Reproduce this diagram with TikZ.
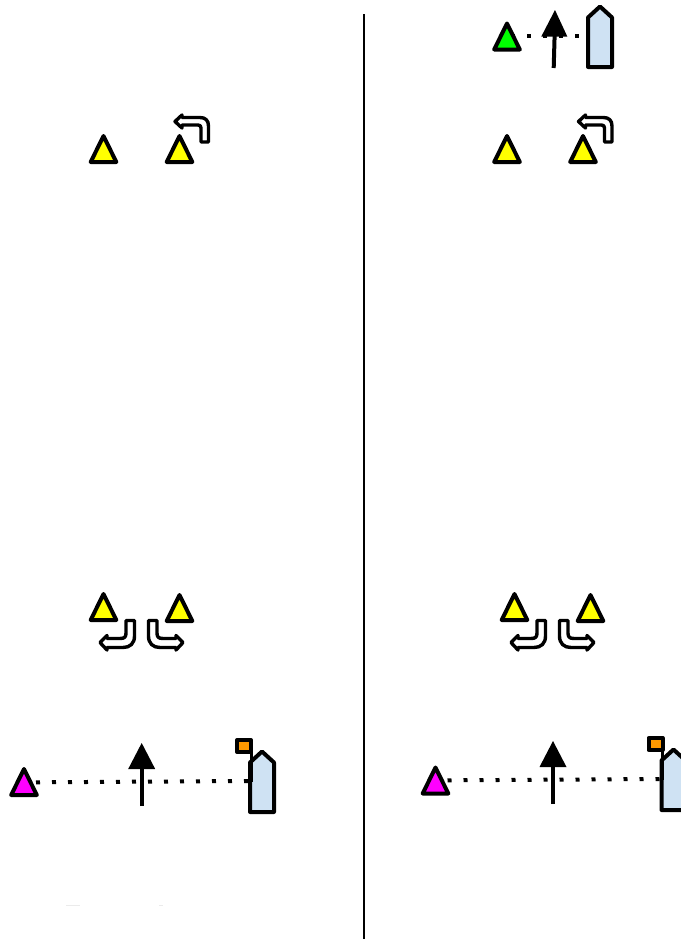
\documentclass[tikz,border=0pt]{standalone}
\definecolor{boatblue}{HTML}{CFE2F3}
\definecolor{flagorange}{HTML}{FF9900}
\definecolor{tyellow}{HTML}{FFFF00}
\definecolor{tgreen}{HTML}{00FF00}
\definecolor{tmagenta}{HTML}{FF00FF}
\tikzset{
  x=0.75pt,y=-0.75pt,
  shape line/.style={draw=black,line width=4pt*0.75,line join=round,line cap=round},
  tri/.style={shape line,fill=#1},
  boatshape/.style={draw=black,line width=4pt*0.75,line join=round,fill=boatblue},
  flagshape/.style={draw=black,line width=4pt*0.75,line join=round,fill=flagorange},
  dots/.style={draw=black,line width=4pt*0.75,dash pattern=on 3pt off 9pt},
  shaft/.style={draw=black,line width=4pt*0.75},
  headshape/.style={fill=black},
  turn/.style={draw=black,line width=3.4pt*0.75,line join=round,fill=white},
  pics/triangle/.style args={#1}{code={
    \draw[tri=#1] (-12.8,0) -- (0,-26) -- (12.8,0) -- cycle;
  }},
  pics/boat/.style={code={
    \draw[boatshape] (-12,0) -- (-12,-49.5) -- (0,-60.5) -- (12,-49.5) -- (12,0) -- cycle;
  }},
  pics/uparrow/.style={code={
    \draw[shaft] (0,37) -- (0,0);
    \fill[headshape] (-13.5,0) -- (0,-26) -- (13.5,0) -- cycle;
  }},
  pics/turnup/.style={code={
    \draw[turn] (175,121.5) -- (182,115) -- (182,117.5) -- (200,117.5)
      .. controls (205.5,117.5) and (208.5,120.5) .. (208.5,126) -- (208.5,142) -- (201,142) -- (201,128)
      .. controls (201,126) and (200,125) .. (198,125) -- (182,125) -- (182,128) -- cycle;
  }},
  pics/turndown/.style={code={
    \draw[turn] (100,642.5) -- (107,635.5) -- (107,638.5) -- (120,638.5)
      .. controls (124.5,638.5) and (126,637) .. (126,633) -- (126,620.5) -- (134.5,620.5) -- (134.5,636)
      .. controls (134.5,643.5) and (130,647.5) .. (123,647.5) -- (107,647.5) -- (107,650) -- cycle;
  }}
}
\begin{document}
\begin{tikzpicture}
\useasboundingbox (0,0) rectangle (681,939);
\clip (0,0) rectangle (681,939);
\fill[white] (0,0) rectangle (681,939);

% divider
\coordinate (divtop) at (364,14);
\coordinate (divbot) at (364,939);
\draw[black,line width=1.5pt] (divtop) -- (divbot);

% top row, left
\pic at (103.5,162) {triangle=tyellow};
\pic at (179.5,162) {triangle=tyellow};
\pic at (0,0) {turnup};

% top row, right
\pic at (507,162) {triangle=tyellow};
\pic at (583,162) {triangle=tyellow};
\pic at (403.5,0) {turnup};

% very top, right
\coordinate (gs) at (511,36);
\coordinate (ge) at (590,36);
\draw[dots] (gs) -- (ge);
\pic at (507,49.5) {triangle=tgreen};
\draw[shaft] (553.7,68) -- (554.6,36);
\fill[headshape] (541.3,36.5) -- (555,10) -- (567.3,36.5) -- cycle;
\pic at (600,67) {boat};

% lower turn group, left
\pic at (103.5,620) {triangle=tyellow};
\pic at (179.5,621) {triangle=tyellow};
\pic at (0,0) {turndown};
\pic[xscale=-1] at (283,0) {turndown};

% lower turn group, right
\pic at (514.5,620) {triangle=tyellow};
\pic at (590.5,621) {triangle=tyellow};
\pic at (411,0) {turndown};
\pic[xscale=-1] at (694,0) {turndown};

% bottom left
\coordinate (ms) at (36,782.3);
\coordinate (me) at (250,781);
\draw[dots] (ms) -- (me);
\pic at (24,795) {triangle=tmagenta};
\pic at (141.7,769) {uparrow};
\pic at (262,812) {boat};
\draw[flagshape] (237,740) rectangle (251,752);
\draw[black,line width=3pt*0.75] (251,752) -- (251,782);

% bottom right
\coordinate (ns) at (447.5,780.3);
\coordinate (ne) at (661.5,779);
\draw[dots] (ns) -- (ne);
\pic at (435.5,793.5) {triangle=tmagenta};
\pic at (553,767) {uparrow};
\pic at (673.5,810) {boat};
\draw[flagshape] (648.5,738) rectangle (662.5,750);
\draw[black,line width=3pt*0.75] (662.5,750) -- (662.5,780);

% faint marks
\draw[black!8,line width=0.75pt] (66,905) -- (80,905);
\draw[black!8,line width=0.75pt] (159,905) -- (163,905);
\end{tikzpicture}
\end{document}
